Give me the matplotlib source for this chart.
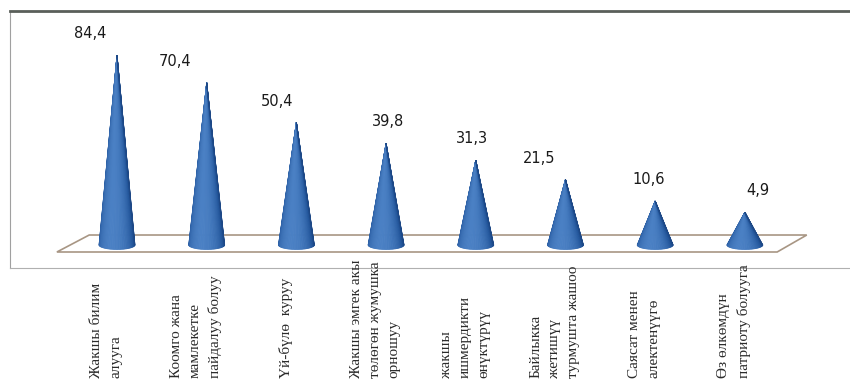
import numpy as np
import matplotlib.pyplot as plt
from matplotlib.patches import Polygon
from matplotlib.colors import LinearSegmentedColormap
import matplotlib.transforms as mtransforms

categories = [
    "Жакшы билим\nалууга",
    "Коомго жана\nмамлекетке\nпайдалуу болуу",
    "Үй-бүлө  куруу",
    "Жакшы эмгек акы\nтөлөгөн жумушка\nорношуу",
    "жакшы\nишмердикти\nөнүктүрүү",
    "Байлыкка\nжетишүү\nтурмушта жашоо",
    "Саясат менен\nалектенүүгө",
    "Өз өлкөмдүн\nпатриоту болууга",
]
values = [84.4, 70.4, 50.4, 39.8, 31.3, 21.5, 10.6, 4.9]
value_labels = ["84,4", "70,4", "50,4", "39,8", "31,3", "21,5", "10,6", "4,9"]
label_dx = [-27, -32, -19, 2, -4, -26, -6, 13]  # px, nudges of value labels

fig = plt.figure(figsize=(8.5, 3.82), dpi=100)
ax = fig.add_axes([10 / 850, (382 - 268) / 382, 840 / 850, 257 / 382])
ax.set_xlim(-1.193, 8.172)
ax.set_ylim(-23.3, 106.8)
ax.set_xticks([])
ax.set_yticks([])
ax.spines['right'].set_visible(False)
ax.spines['top'].set_color('#5a5f5a')
ax.spines['top'].set_linewidth(2)
ax.spines['left'].set_color('#a0a0a0')
ax.spines['bottom'].set_color('#b0b0b0')

# floor
floor_back, floor_front, base_y = -6.6, -15.2, -11.6
n = len(values)
floor = Polygon([(-0.31, floor_back), (n - 0.31, floor_back),
                 (n - 0.64, floor_front), (-0.67, floor_front)],
                closed=True, facecolor='white', edgecolor='#a89684', lw=1.2, zorder=1)
ax.add_patch(floor)

cmap = LinearSegmentedColormap.from_list('cone', ['#123366', '#24579c', '#4a80c4'])
r, ry = 0.2, 2.3
ts = np.linspace(np.pi, 2 * np.pi, 40)
for i, v in enumerate(values):
    px = i + r * np.cos(ts)
    py = base_y + ry * np.sin(ts)
    for k in range(len(ts) - 1):
        tm = 0.5 * (ts[k] + ts[k + 1])
        shade = 0.5 + 0.5 * np.cos(tm - 1.42 * np.pi)
        c = cmap(shade ** 1.3)
        tri = Polygon([(i, v), (px[k], py[k]), (px[k + 1], py[k + 1])],
                      closed=True, facecolor=c, edgecolor=c, lw=0.6, zorder=3)
        ax.add_patch(tri)
    ax.annotate(value_labels[i], (i, v), xytext=(label_dx[i] * 0.72, 10),
                textcoords='offset points', ha='center', va='bottom',
                fontsize=10.5, color='#1a1a1a', family='DejaVu Sans')

# category labels under the chart
trans = mtransforms.blended_transform_factory(ax.transData, fig.transFigure)
for i, lab in enumerate(categories):
    ax.text(i - 0.12, 4 / 382, lab, transform=trans, rotation=90,
            ha='center', va='bottom', multialignment='left',
            fontsize=11, linespacing=1.6, family='Liberation Serif',
            color='#2a2a2a', clip_on=False)

fig.savefig('out.png', dpi=100, facecolor='white')
